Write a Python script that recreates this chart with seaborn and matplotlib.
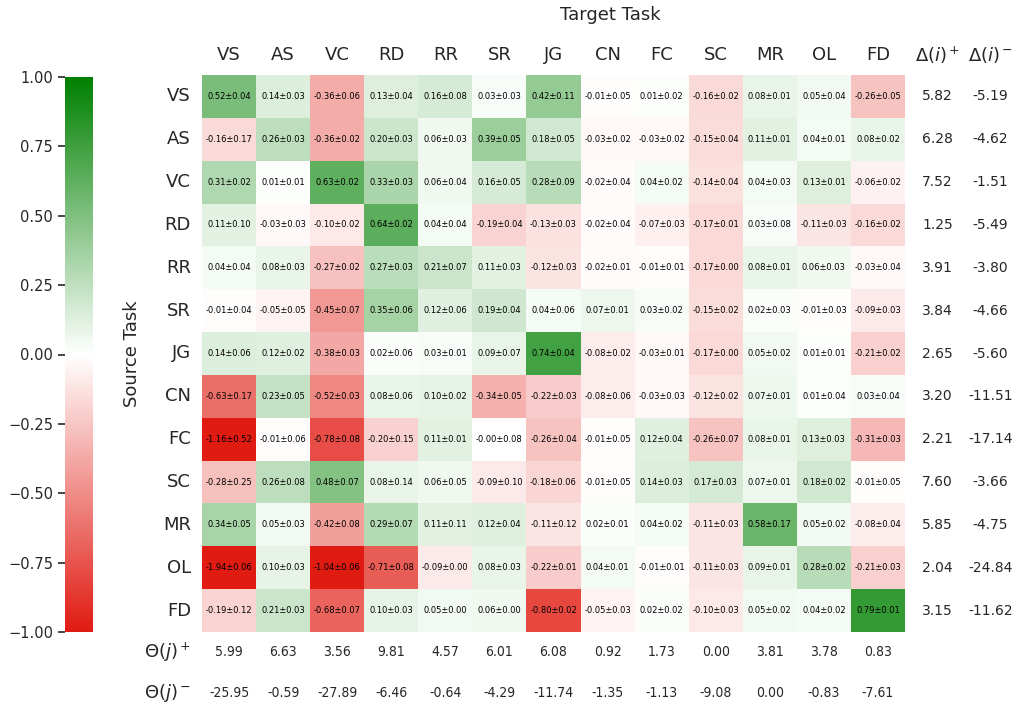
import numpy as np
import pandas as pd
import matplotlib
matplotlib.use("Agg")
import matplotlib.pyplot as plt
from matplotlib.colors import LinearSegmentedColormap
import seaborn as sns

tasks = ["VS", "AS", "VC", "RD", "RR", "SR", "JG", "CN", "FC", "SC", "MR", "OL", "FD"]

# mean transfer gain (rows: source task, columns: target task)
means = [
    [0.52, 0.14, -0.36, 0.13, 0.16, 0.03, 0.42, -0.01, 0.01, -0.16, 0.08, 0.05, -0.26],
    [-0.16, 0.26, -0.36, 0.20, 0.06, 0.39, 0.18, -0.03, -0.03, -0.15, 0.11, 0.04, 0.08],
    [0.31, 0.01, 0.63, 0.33, 0.06, 0.16, 0.28, -0.02, 0.04, -0.14, 0.04, 0.13, -0.06],
    [0.11, -0.03, -0.10, 0.64, 0.04, -0.19, -0.13, -0.02, -0.07, -0.17, 0.03, -0.11, -0.16],
    [0.04, 0.08, -0.27, 0.27, 0.21, 0.11, -0.12, -0.02, -0.01, -0.17, 0.08, 0.06, -0.03],
    [-0.01, -0.05, -0.45, 0.35, 0.12, 0.19, 0.04, 0.07, 0.03, -0.15, 0.02, -0.01, -0.09],
    [0.14, 0.12, -0.38, 0.02, 0.03, 0.09, 0.74, -0.08, -0.03, -0.17, 0.05, 0.01, -0.21],
    [-0.63, 0.23, -0.52, 0.08, 0.10, -0.34, -0.22, -0.08, -0.03, -0.12, 0.07, 0.01, 0.03],
    [-1.16, -0.01, -0.78, -0.20, 0.11, -0.0, -0.26, -0.01, 0.12, -0.26, 0.08, 0.13, -0.31],
    [-0.28, 0.26, 0.48, 0.08, 0.06, -0.09, -0.18, -0.01, 0.14, 0.17, 0.07, 0.18, -0.01],
    [0.34, 0.05, -0.42, 0.29, 0.11, 0.12, -0.11, 0.02, 0.04, -0.11, 0.58, 0.05, -0.08],
    [-1.94, 0.10, -1.04, -0.71, -0.09, 0.08, -0.22, 0.04, -0.01, -0.11, 0.09, 0.28, -0.21],
    [-0.19, 0.21, -0.68, 0.10, 0.05, 0.06, -0.80, -0.05, 0.02, -0.10, 0.05, 0.04, 0.79],
]

# standard deviations over runs
stds = [
    [0.04, 0.03, 0.06, 0.04, 0.08, 0.03, 0.11, 0.05, 0.02, 0.02, 0.01, 0.04, 0.05],
    [0.17, 0.03, 0.02, 0.03, 0.03, 0.05, 0.05, 0.02, 0.02, 0.04, 0.01, 0.01, 0.02],
    [0.02, 0.01, 0.02, 0.03, 0.04, 0.05, 0.09, 0.04, 0.02, 0.04, 0.03, 0.01, 0.02],
    [0.10, 0.03, 0.02, 0.02, 0.04, 0.04, 0.03, 0.04, 0.03, 0.01, 0.08, 0.03, 0.02],
    [0.04, 0.03, 0.02, 0.03, 0.07, 0.03, 0.03, 0.01, 0.01, 0.00, 0.01, 0.03, 0.04],
    [0.04, 0.05, 0.07, 0.06, 0.06, 0.04, 0.06, 0.01, 0.02, 0.02, 0.03, 0.03, 0.03],
    [0.06, 0.02, 0.03, 0.06, 0.01, 0.07, 0.04, 0.02, 0.01, 0.00, 0.02, 0.01, 0.02],
    [0.17, 0.05, 0.03, 0.06, 0.02, 0.05, 0.03, 0.06, 0.03, 0.02, 0.01, 0.04, 0.04],
    [0.52, 0.06, 0.08, 0.15, 0.01, 0.08, 0.04, 0.05, 0.04, 0.07, 0.01, 0.03, 0.03],
    [0.25, 0.08, 0.07, 0.14, 0.05, 0.10, 0.06, 0.05, 0.03, 0.03, 0.01, 0.02, 0.05],
    [0.05, 0.03, 0.08, 0.07, 0.11, 0.04, 0.12, 0.01, 0.02, 0.03, 0.17, 0.02, 0.04],
    [0.06, 0.03, 0.06, 0.08, 0.00, 0.03, 0.01, 0.01, 0.01, 0.03, 0.01, 0.02, 0.03],
    [0.12, 0.03, 0.07, 0.03, 0.00, 0.00, 0.02, 0.03, 0.02, 0.03, 0.02, 0.02, 0.01],
]

# per-source totals
delta_pos = [5.82, 6.28, 7.52, 1.25, 3.91, 3.84, 2.65, 3.20, 2.21, 7.60, 5.85, 2.04, 3.15]
delta_neg = [-5.19, -4.62, -1.51, -5.49, -3.80, -4.66, -5.60, -11.51, -17.14, -3.66, -4.75, -24.84, -11.62]

# per-target totals
theta_pos = [5.99, 6.63, 3.56, 9.81, 4.57, 6.01, 6.08, 0.92, 1.73, 0.00, 3.81, 3.78, 0.83]
theta_neg = [-25.95, -0.59, -27.89, -6.46, -0.64, -4.29, -11.74, -1.35, -1.13, -9.08, 0.00, -0.83, -7.61]

sns.set_theme(style="white")
plt.rcParams["font.family"] = ["DejaVu Sans"]

df = pd.DataFrame(means, index=tasks, columns=tasks)
annot = np.array([[f"{m:.2f}\u00b1{s:.2f}" for m, s in zip(mr, sr)]
                  for mr, sr in zip(means, stds)])

cmap = LinearSegmentedColormap.from_list("gain", ["#e01b12", "#ffffff", "#008000"])

fig = plt.figure(figsize=(10.17, 7.08), dpi=100)
ax = fig.add_axes([202 / 1017, 76 / 708, 703 / 1017, 557 / 708])
cax = fig.add_axes([65 / 1017, 76 / 708, 28 / 1017, 555 / 708])

sns.heatmap(df, ax=ax, cbar_ax=cax, cmap=cmap, vmin=-1, vmax=1,
            annot=annot, fmt="", annot_kws={"size": 6, "color": "black"},
            cbar_kws={"ticks": [-1, -0.75, -0.5, -0.25, 0, 0.25, 0.5, 0.75, 1]})

# heatmap tick labels
ax.xaxis.tick_top()
ax.set_xticklabels(tasks, rotation=0, fontsize=13)
ax.set_yticklabels(tasks, rotation=0, fontsize=13)
ax.tick_params(axis="both", length=0, pad=8)
ax.set_xlabel("")
ax.set_ylabel("Source Task", fontsize=13, labelpad=16)
fig.text(610 / 1017, 1 - 15 / 708, "Target Task", ha="center", va="center", fontsize=13)

# colorbar on the left
cax.yaxis.set_ticks_position("left")
cax.yaxis.set_label_position("left")
cax.tick_params(axis="y", length=5, width=1.2, labelsize=10.5, color="#262626")

# row totals to the right of the grid
ax.text(13.6, -0.47, r"$\Delta(i)^+$", ha="center", va="center", fontsize=13, clip_on=False)
ax.text(14.58, -0.47, r"$\Delta(i)^-$", ha="center", va="center", fontsize=13, clip_on=False)
for i, (p, n) in enumerate(zip(delta_pos, delta_neg)):
    ax.text(13.6, i + 0.5, f"{p:.2f}", ha="center", va="center", fontsize=10, clip_on=False)
    ax.text(14.58, i + 0.5, f"{n:.2f}", ha="center", va="center", fontsize=10, clip_on=False)

# column totals below the grid
ax.text(-0.2, 13.47, r"$\Theta(j)^+$", ha="right", va="center", fontsize=13, clip_on=False)
ax.text(-0.2, 14.42, r"$\Theta(j)^-$", ha="right", va="center", fontsize=13, clip_on=False)
for j, (p, n) in enumerate(zip(theta_pos, theta_neg)):
    ax.text(j + 0.5, 13.47, f"{p:.2f}", ha="center", va="center", fontsize=10,
            fontstretch="condensed", clip_on=False)
    ax.text(j + 0.5, 14.42, f"{n:.2f}", ha="center", va="center", fontsize=10,
            fontstretch="condensed", clip_on=False)

fig.savefig("out.png", dpi=100)
